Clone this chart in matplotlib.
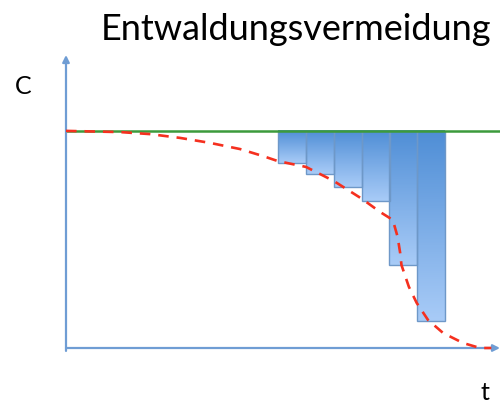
import numpy as np
import matplotlib.pyplot as plt
from matplotlib.colors import LinearSegmentedColormap

# Basislinie (Kohlenstoffvorrat ohne Entwaldung)
baseline = 7.41

# Szenario mit Entwaldung (rote gestrichelte Kurve)
t_curve = [0.0, 1.24, 1.94, 2.63, 3.32, 4.01, 4.54, 4.88, 5.53, 6.17, 6.82,
           7.24, 7.53, 7.64, 7.70, 7.73, 7.90, 8.08, 8.34, 8.69, 9.15, 9.54, 9.8]
c_curve = [7.41, 7.37, 7.30, 7.17, 7.00, 6.79, 6.55, 6.38, 6.18, 5.70, 5.09,
           4.64, 4.37, 3.80, 3.24, 2.83, 2.09, 1.54, 0.96, 0.51, 0.17, 0.0, 0.0]

# vermiedene Emissionen (Balken)
bar_left = [4.88, 5.53, 6.17, 6.82, 7.44, 8.09]
bar_bottom = [6.31, 5.94, 5.49, 5.02, 2.83, 0.92]
bar_width = 0.64

fig = plt.figure(figsize=(5, 4.05), dpi=100)
ax = fig.add_axes([66 / 500, 57 / 405, 434 / 500, 293 / 405])
ax.set_xlim(0, 10)
ax.set_ylim(0, 10)
ax.axis('off')

cmap = LinearSegmentedColormap.from_list('blau', ['#a8cbf7', '#4f8ed6'])
grad = np.linspace(0, 1, 100).reshape(-1, 1)
for left, bottom in zip(bar_left, bar_bottom):
    ax.imshow(grad, cmap=cmap, aspect='auto', origin='lower',
              extent=[left, left + bar_width, bottom, baseline], zorder=1)
    ax.bar(left, baseline - bottom, bar_width, bottom=bottom, align='edge',
           facecolor='none', edgecolor='#6e98c8', linewidth=1.0, zorder=2)

ax.axhline(baseline, color='#3c9a3c', linewidth=1.8, zorder=3)
ax.plot(t_curve, c_curve, color='#f5301f', linewidth=1.9,
        dashes=(4, 3), zorder=4, clip_on=False)

# Achsen mit Pfeilen
arrow = dict(arrowstyle='-|>', color='#6f9dd4', lw=1.6, mutation_scale=10,
             shrinkA=0, shrinkB=0)
ax.annotate('', xy=(10, 0), xytext=(0, 0), arrowprops=arrow, annotation_clip=False)
ax.annotate('', xy=(0, 10), xytext=(0, -0.1), arrowprops=arrow, annotation_clip=False)

font = 'Lato'
fig.text(296 / 500, 1 - 30 / 405, 'Entwaldungsvermeidung', ha='center', va='center',
         fontsize=26, family=font)
fig.text(23 / 500, 1 - 86 / 405, 'C', ha='center', va='center', fontsize=18, family=font)
fig.text(485 / 500, 1 - 392 / 405, 't', ha='center', va='center', fontsize=18, family=font)

fig.savefig('out.png', dpi=100)
